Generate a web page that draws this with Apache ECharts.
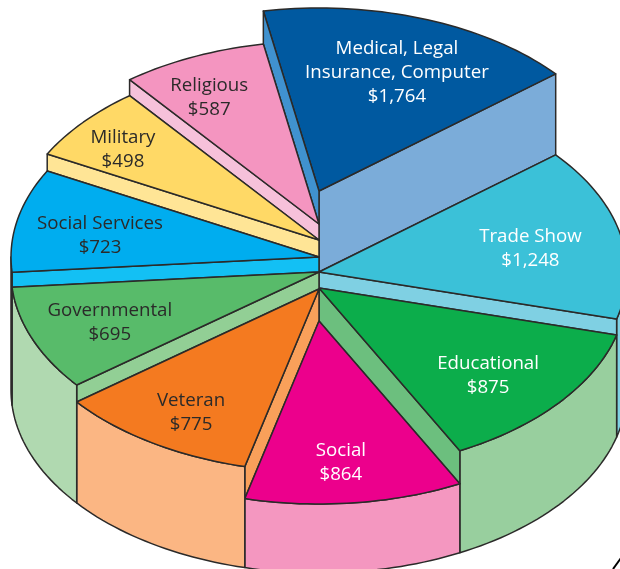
<!DOCTYPE html>
<html>
<head>
<meta charset="utf-8">
<style>html,body{margin:0;padding:0;background:#fff}#c{width:620px;height:569px}</style>
<script src="https://cdn.jsdelivr.net/npm/echarts@6/dist/echarts.min.js"></script>
</head>
<body>
<div id="c"></div>
<script>
// Data (clockwise from the back)
const categories = ['Medical, Legal\nInsurance, Computer', 'Trade Show', 'Educational', 'Social', 'Veteran', 'Governmental', 'Social Services', 'Military', 'Religious'];
const amounts = [1764, 1248, 875, 864, 775, 695, 723, 498, 587];
const tickLabels = ['$1,764', '$1,248', '$875', '$864', '$775', '$695', '$723', '$498', '$587'];

// Colours
const topColors = ['#0059a0', '#3bc1d8', '#0cad4b', '#ec008c', '#f47a20', '#58bb6a', '#00adef', '#ffd966', '#f495c0'];
const wallColors = ['#7bacd9', '#7fd0e3', '#98cf9e', '#f497c0', '#fbb683', '#b0d9b0', '#13c0f4', '#ffe596', '#f6c1da'];
const cutColors = ['#7bacd9', '#7fd0e3', '#6cbf7e', '#f9a05a', '#92cf95', '#13c0f4', '#ffe596', '#f6c1da', '#4092cf'];
const textColors = ['#fff', '#fff', '#fff', '#fff', '#2b2a29', '#2b2a29', '#2b2a29', '#2b2a29', '#2b2a29'];

// Projection layout
const view = { cx: 319, baseY: 390, rx: 308, ry: 183, startAngle: 348.2, line: '#2b2a29', lineWidth: 1.5 };
const sliceLift = [199, 118, 102, 69, 101, 118, 133, 150, 166];
const labelAngle = [21.1, 78.7, 130.6, 174.7, 211.9, 248.5, 280, 308.3, 333];
const labelRadius = [0.703, 0.70, 0.723, 0.768, 0.786, 0.73, 0.722, 0.811, 0.785];
const labelNudgeY = 2;

const rad = Math.PI / 180;
const total = amounts.reduce((a, b) => a + b, 0);
// The drawing's perspective compresses the far side of the disc: value angle -> drawn angle.
function drawnAngle(t) {
  const r = t * rad;
  return view.startAngle + t - 7.82
    + 5.47 * Math.cos(r) - 7.44 * Math.sin(r)
    + 3.48 * Math.cos(2 * r) + 1.46 * Math.sin(2 * r)
    - 0.29 * Math.cos(3 * r) + 1.15 * Math.sin(3 * r)
    + 0.55 * Math.cos(4 * r) - 0.17 * Math.sin(4 * r);
}
const edges = [];
amounts.reduce((sum, v) => { edges.push(drawnAngle(sum / total * 360)); return sum + v; }, 0);
edges.push(edges[0] + 360);

function pt(theta, lift, f) {
  const k = f === undefined ? 1 : f;
  return [view.cx + k * view.rx * Math.sin(theta * rad), view.baseY - lift - k * view.ry * Math.cos(theta * rad)];
}
function arc(a, b, lift) {
  const out = [], n = Math.max(2, Math.ceil(Math.abs(b - a) / 1.5));
  for (let j = 0; j <= n; j++) out.push(pt(a + (b - a) * j / n, lift));
  return out;
}
const stroke = { stroke: view.line, lineWidth: view.lineWidth, lineJoin: 'round' };

function renderItem(params, api) {
  const i = api.value(0);
  const next = (i + 1) % amounts.length;
  const a = edges[i], b = edges[i + 1];
  const lift = sliceLift[i];
  const children = [];
  // outer wall, only where the rim faces the viewer
  const wa = Math.max(a, 450), wb = Math.min(b, 630);
  if (wb > wa) {
    const top = arc(wa, wb, lift), bottom = arc(wb, wa, 0);
    children.push({ type: 'polygon', shape: { points: top.concat(bottom) }, style: Object.assign({ fill: wallColors[i] }, stroke) });
  }
  // cut face between this slice and the next
  const nextLift = sliceLift[next];
  children.push({ type: 'polygon', shape: { points: [pt(b, lift, 0), pt(b, lift), pt(b, nextLift), pt(b, nextLift, 0)] }, style: Object.assign({ fill: cutColors[i] }, stroke) });
  // top face
  children.push({ type: 'polygon', shape: { points: [pt(a, lift, 0)].concat(arc(a, b, lift)) }, style: Object.assign({ fill: topColors[i] }, stroke) });
  // label
  const p = pt(labelAngle[i], lift, labelRadius[i]);
  children.push({ type: 'text', z2: 10, style: { x: p[0], y: p[1] + labelNudgeY, text: categories[i] + '\n' + tickLabels[i], fill: textColors[i], font: '18.7px "Open Sans", "Noto Sans", sans-serif', lineHeight: 24, align: 'center', verticalAlign: 'middle' } });
  return { type: 'group', children };
}

const chart = echarts.init(document.getElementById('c'), null, { renderer: 'canvas' });
chart.setOption({
  animation: false,
  backgroundColor: '#fff',
  series: [{
    type: 'custom',
    coordinateSystem: 'none',
    silent: true,
    renderItem,
    data: amounts.map((v, i) => [i, v])
  }],
  graphic: [{ type: 'line', shape: { x1: 613, y1: 569, x2: 621, y2: 558 }, style: { stroke: '#000', lineWidth: 2 } }]
});
</script>
</body>
</html>
